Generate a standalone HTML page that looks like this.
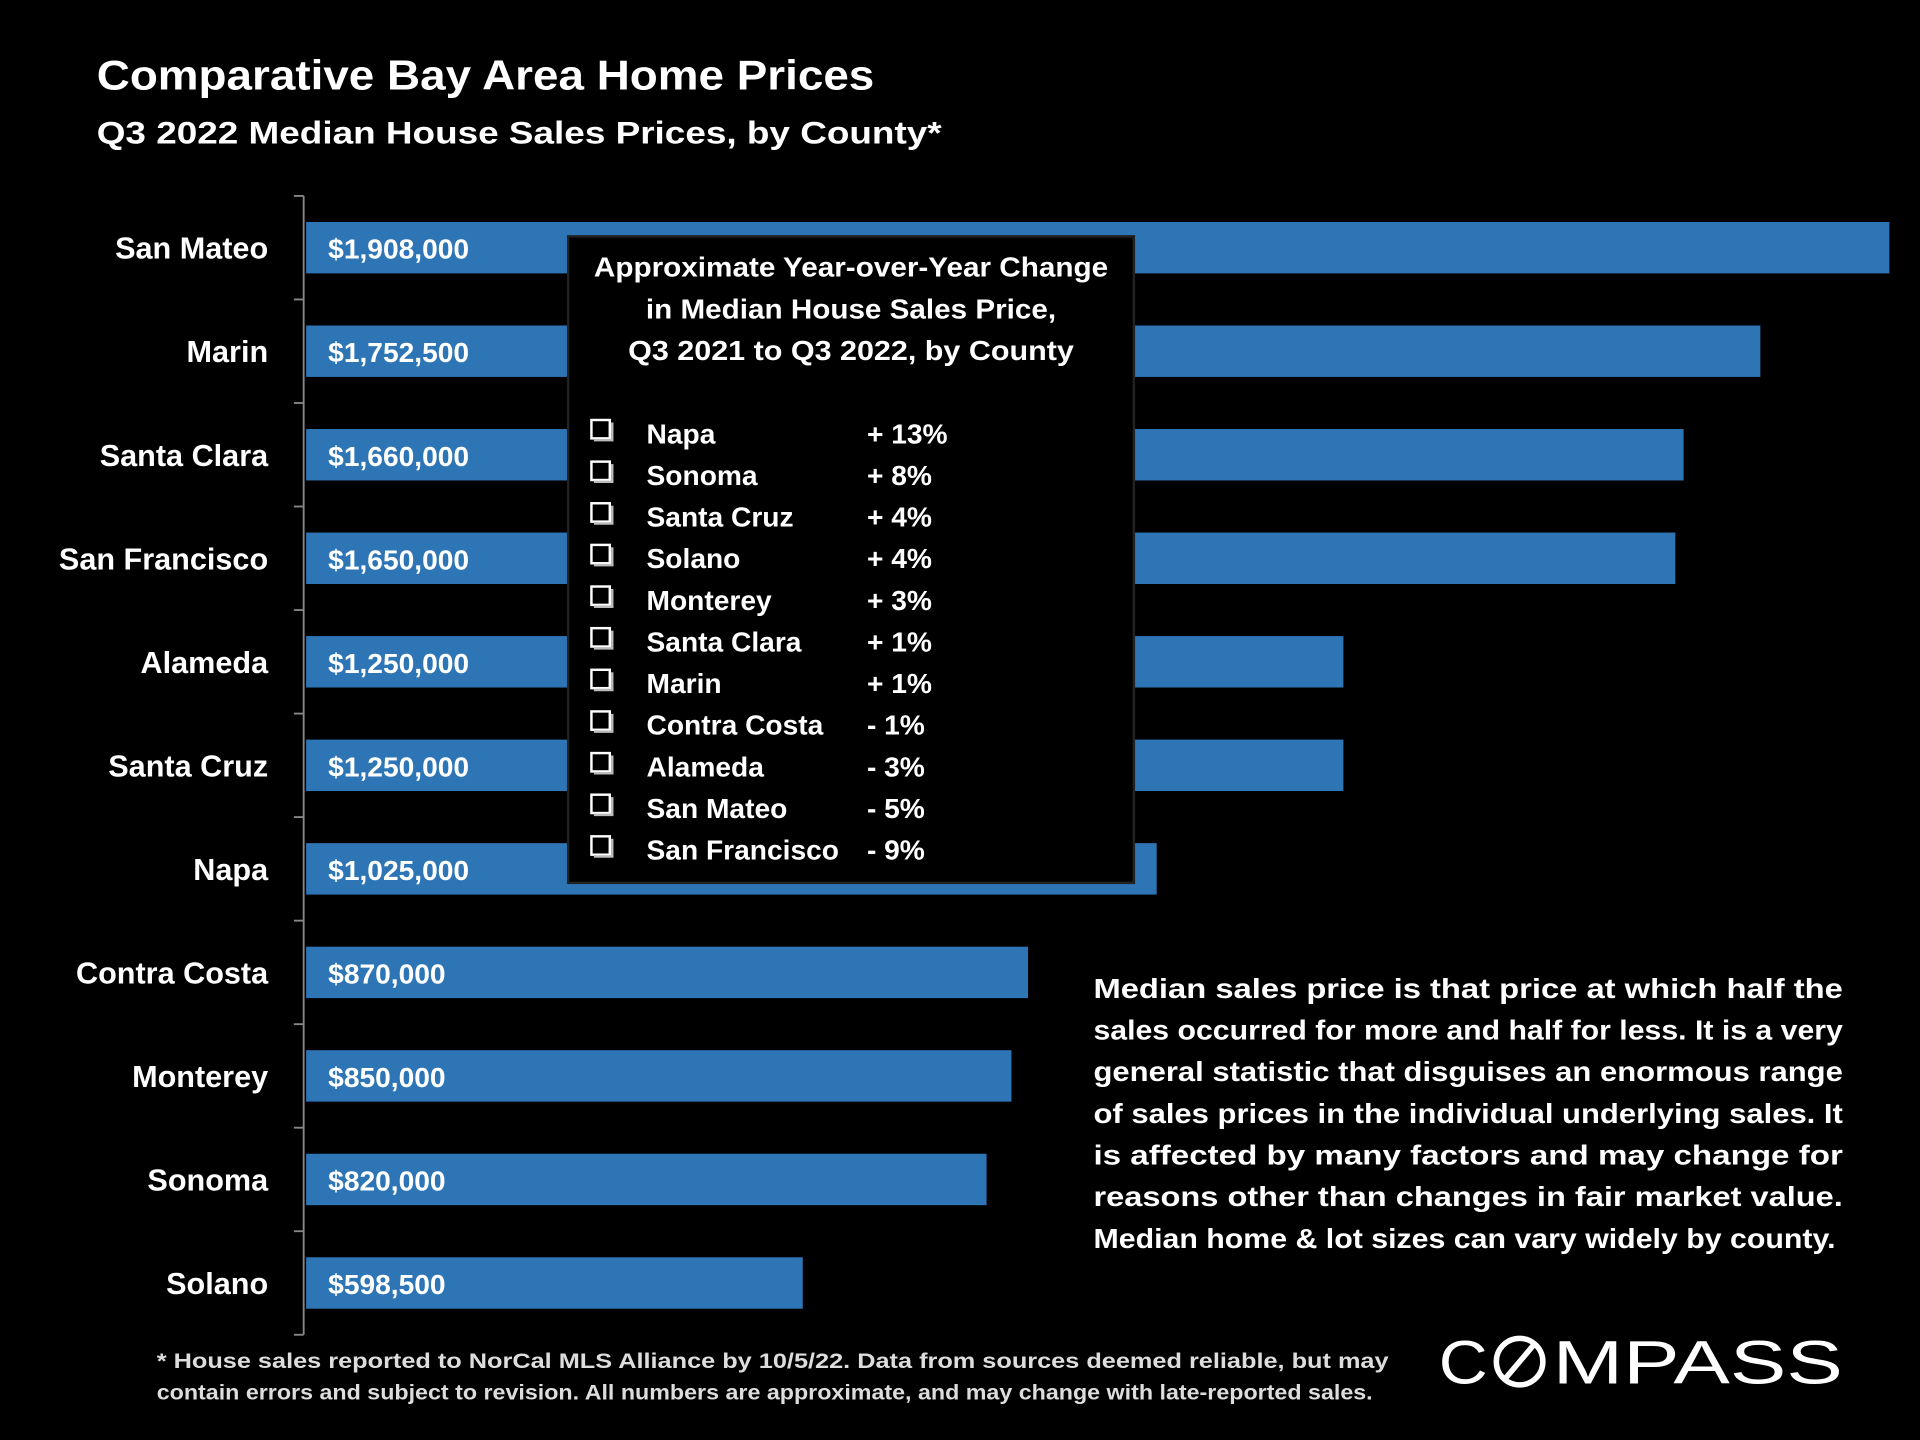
<!DOCTYPE html>
<html><head><meta charset="utf-8"><style>
html,body{margin:0;padding:0;background:#000;}
svg{display:block;}
text{font-family:"Liberation Sans",sans-serif;font-weight:bold;fill:#fff;}
</style></head><body>
<svg id="chart" width="1920" height="1440" viewBox="0 0 1568 1176" xmlns="http://www.w3.org/2000/svg">
<rect width="1568" height="1176" fill="#000"/>
<text x="79" y="73" font-size="34" textLength="635" lengthAdjust="spacingAndGlyphs">Comparative Bay Area Home Prices</text>
<text x="79" y="117" font-size="26" textLength="690" lengthAdjust="spacingAndGlyphs">Q3 2022 Median House Sales Prices, by County*</text>
<g id="axis"></g>
<g id="bars"></g>
<g id="inset">
<rect x="464" y="193" width="462" height="528" fill="#000" stroke="#222" stroke-width="2"/>
<text x="695" y="226" font-size="23" text-anchor="middle" textLength="420" lengthAdjust="spacingAndGlyphs">Approximate Year-over-Year Change</text>
<text x="695" y="260" font-size="23" text-anchor="middle" textLength="335" lengthAdjust="spacingAndGlyphs">in Median House Sales Price,</text>
<text x="695" y="294" font-size="23" text-anchor="middle" textLength="364" lengthAdjust="spacingAndGlyphs">Q3 2021 to Q3 2022, by County</text>
<g id="yoy"></g>
</g>
<g font-size="23">
<text x="893" y="815" textLength="612" lengthAdjust="spacingAndGlyphs">Median sales price is that price at which half the</text>
<text x="893" y="849" textLength="612" lengthAdjust="spacingAndGlyphs">sales occurred for more and half for less. It is a very</text>
<text x="893" y="883" textLength="612" lengthAdjust="spacingAndGlyphs">general statistic that disguises an enormous range</text>
<text x="893" y="917" textLength="612" lengthAdjust="spacingAndGlyphs">of sales prices in the individual underlying sales. It</text>
<text x="893" y="951" textLength="612" lengthAdjust="spacingAndGlyphs">is affected by many factors and may change for</text>
<text x="893" y="985" textLength="612" lengthAdjust="spacingAndGlyphs">reasons other than changes in fair market value.</text>
<text x="893" y="1019" textLength="606" lengthAdjust="spacingAndGlyphs">Median home &amp; lot sizes can vary widely by county.</text>
</g>
<g font-size="17">
<text x="128" y="1117" style="fill:#ddd" textLength="1006" lengthAdjust="spacingAndGlyphs">* House sales reported to NorCal MLS Alliance by 10/5/22. Data from sources deemed reliable, but may</text>
<text x="128" y="1143" style="fill:#ddd" textLength="993" lengthAdjust="spacingAndGlyphs">contain errors and subject to revision. All numbers are approximate, and may change with late-reported sales.</text>
</g>
<g>
<text x="1175" y="1130" font-size="50" style="font-weight:normal" textLength="40" lengthAdjust="spacingAndGlyphs">C</text>
<text x="1268" y="1130" font-size="50" style="font-weight:normal" textLength="237" lengthAdjust="spacingAndGlyphs">MPASS</text>
<circle cx="1241" cy="1112" r="19" fill="none" stroke="#fff" stroke-width="4.5"/>
<line x1="1230" y1="1125" x2="1252" y2="1099" stroke="#fff" stroke-width="4.5"/>
</g>
</svg>
<script>
const categories=["San Mateo","Marin","Santa Clara","San Francisco","Alameda","Santa Cruz","Napa","Contra Costa","Monterey","Sonoma","Solano"];
const prices=[1908000,1752500,1660000,1650000,1250000,1250000,1025000,870000,850000,820000,598500];
const priceLabels=["$1,908,000","$1,752,500","$1,660,000","$1,650,000","$1,250,000","$1,250,000","$1,025,000","$870,000","$850,000","$820,000","$598,500"];
const yoyCounties=["Napa","Sonoma","Santa Cruz","Solano","Monterey","Santa Clara","Marin","Contra Costa","Alameda","San Mateo","San Francisco"];
const yoyLabels=["+ 13%","+ 8%","+ 4%","+ 4%","+ 3%","+ 1%","+ 1%","- 1%","- 3%","- 5%","- 9%"];
const NS="http://www.w3.org/2000/svg";
const x0=250,pxPerDollar=1293/1908000,top0=160,band=84.55,barH=42;
const xScale=v=>x0+v*pxPerDollar;
const yBand=i=>top0+i*band;
function mk(tag,attrs,parent){const e=document.createElementNS(NS,tag);for(const k in attrs)e.setAttribute(k,attrs[k]);parent.appendChild(e);return e;}
const axis=document.getElementById('axis'),bars=document.getElementById('bars'),yoy=document.getElementById('yoy');
const n=categories.length;
mk('line',{x1:248,y1:top0,x2:248,y2:yBand(n),stroke:'#888','stroke-width':1.5},axis);
for(let i=0;i<=n;i++){const t=mk('line',{x1:240,y1:yBand(i),x2:248,y2:yBand(i),stroke:'#888','stroke-width':1.5},axis);

}
categories.forEach((c,i)=>{
const cy=yBand(i)+band/2;
const r=mk('rect',{x:x0,y:cy-barH/2,width:xScale(prices[i])-x0,height:barH,fill:'#2e75b6'},bars);


const l=mk('text',{x:219,y:cy+9,'font-size':25,'text-anchor':'end'},axis);l.textContent=c;


const v=mk('text',{x:268,y:cy+9,'font-size':23},bars);v.textContent=priceLabels[i];


});
yoyCounties.forEach((c,i)=>{
const y=362+i*34;
const b=mk('rect',{x:483,y:y-19,width:15,height:15,fill:'none',stroke:'#fff','stroke-width':2},yoy);


mk('line',{x1:485,y1:y-2.5,x2:501,y2:y-2.5,stroke:'#bbb','stroke-width':2},yoy);
mk('line',{x1:500,y1:y-17,x2:500,y2:y-2,stroke:'#bbb','stroke-width':2},yoy);
const t=mk('text',{x:528,y:y,'font-size':23},yoy);t.textContent=c;


const p=mk('text',{x:708,y:y,'font-size':23},yoy);p.textContent=yoyLabels[i];


});
</script>
</body></html>
